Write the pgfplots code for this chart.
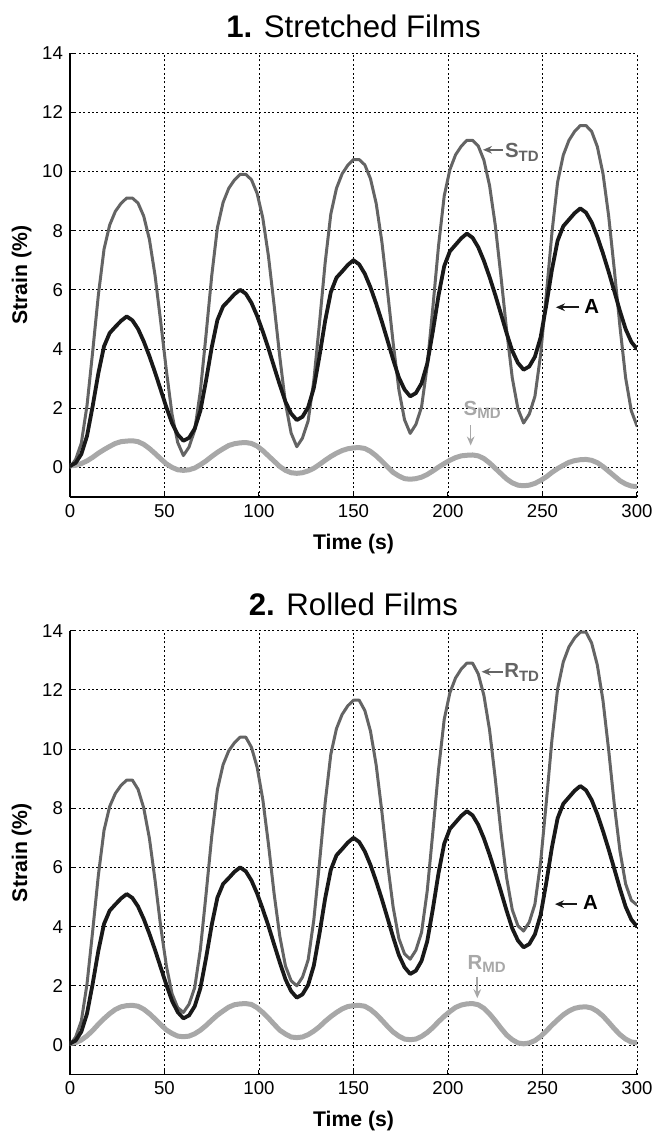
\documentclass[border=0pt]{standalone}
\usepackage{fontspec}
\setmainfont{Liberation Sans}
\usepackage{pgfplots}
\pgfplotsset{compat=1.18}
\usepackage{pgfplotstable}
\usetikzlibrary{arrows.meta}
\definecolor{tdgray}{RGB}{100,100,100}
\definecolor{mdgray}{RGB}{168,168,168}
\definecolor{ablack}{RGB}{25,25,25}

\pgfplotstableread{
t A TD MD
0 0.05 0 0.05
3 0.15 0.27 0.07
6 0.45 0.82 0.13
9 1.06 2.09 0.22
12 2.07 3.91 0.34
15 3.18 5.82 0.48
18 4.09 7.37 0.60
21 4.54 8.19 0.71
24 4.75 8.65 0.81
27 4.95 8.92 0.87
30 5.10 9.10 0.89
33 4.97 9.10 0.90
36 4.68 8.93 0.87
39 4.26 8.49 0.78
42 3.76 7.71 0.64
45 3.21 6.49 0.47
48 2.62 4.92 0.29
51 2.03 3.27 0.12
54 1.49 1.79 0.00
57 1.11 0.84 -0.08
60 0.90 0.40 -0.10
63 1.00 0.69 -0.08
66 1.31 1.26 -0.02
69 1.92 2.59 0.09
72 2.94 4.49 0.22
75 4.06 6.48 0.37
78 4.98 8.10 0.51
81 5.44 8.95 0.63
84 5.64 9.43 0.74
87 5.85 9.71 0.80
90 6.00 9.90 0.83
93 5.87 9.90 0.84
96 5.56 9.72 0.81
99 5.12 9.26 0.72
102 4.59 8.43 0.57
105 4.02 7.14 0.39
108 3.40 5.48 0.21
111 2.79 3.74 0.03
114 2.22 2.17 -0.10
117 1.82 1.16 -0.18
120 1.60 0.70 -0.20
123 1.71 0.99 -0.18
126 2.03 1.57 -0.12
129 2.68 2.93 -0.03
132 3.76 4.87 0.10
135 4.95 6.91 0.24
138 5.92 8.56 0.37
141 6.41 9.43 0.48
144 6.62 9.92 0.57
147 6.84 10.21 0.63
150 7.00 10.40 0.66
153 6.86 10.40 0.67
156 6.54 10.22 0.64
159 6.08 9.75 0.54
162 5.53 8.92 0.39
165 4.93 7.63 0.21
168 4.29 5.96 0.02
171 3.64 4.20 -0.17
174 3.04 2.63 -0.29
177 2.63 1.61 -0.38
180 2.40 1.15 -0.40
183 2.51 1.45 -0.38
186 2.84 2.04 -0.33
189 3.50 3.43 -0.24
192 4.60 5.41 -0.12
195 5.81 7.49 0.01
198 6.80 9.17 0.13
201 7.30 10.06 0.24
204 7.52 10.56 0.33
207 7.74 10.85 0.39
210 7.90 11.05 0.41
213 7.76 11.05 0.42
216 7.44 10.86 0.39
219 6.98 10.38 0.30
222 6.43 9.52 0.15
225 5.83 8.19 -0.03
228 5.19 6.47 -0.21
231 4.54 4.65 -0.39
234 3.94 3.03 -0.52
237 3.53 1.98 -0.60
240 3.30 1.50 -0.62
243 3.41 1.80 -0.60
246 3.74 2.40 -0.54
249 4.39 3.81 -0.44
252 5.48 5.82 -0.32
255 6.68 7.93 -0.17
258 7.66 9.64 -0.04
261 8.15 10.55 0.07
264 8.37 11.05 0.17
267 8.59 11.35 0.23
270 8.75 11.55 0.26
273 8.61 11.55 0.27
276 8.28 11.35 0.24
279 7.80 10.84 0.16
282 7.23 9.93 0.03
285 6.61 8.50 -0.13
288 5.95 6.68 -0.29
291 5.28 4.75 -0.45
294 4.67 3.02 -0.56
297 4.24 1.91 -0.63
300 4.00 1.40 -0.65
}\tabS

\pgfplotstableread{
t A TD MD
0 0.05 0 0.05
3 0.15 0.27 0.08
6 0.45 0.81 0.17
9 1.06 2.06 0.31
12 2.07 3.85 0.49
15 3.18 5.73 0.70
18 4.09 7.25 0.89
21 4.54 8.06 1.06
24 4.75 8.50 1.20
27 4.95 8.77 1.29
30 5.10 8.95 1.33
33 4.97 8.95 1.34
36 4.68 8.64 1.31
39 4.26 8.01 1.21
42 3.76 6.99 1.06
45 3.21 5.57 0.88
48 2.62 4.00 0.69
51 2.03 2.67 0.51
54 1.49 1.73 0.39
57 1.11 1.26 0.30
60 0.90 1.10 0.28
63 1.00 1.38 0.30
66 1.31 1.94 0.38
69 1.92 3.24 0.50
72 2.94 5.10 0.66
75 4.06 7.05 0.84
78 4.98 8.63 1.01
81 5.44 9.47 1.15
84 5.64 9.94 1.28
87 5.85 10.21 1.36
90 6.00 10.40 1.39
93 5.87 10.40 1.40
96 5.56 10.06 1.37
99 5.12 9.39 1.26
102 4.59 8.30 1.10
105 4.02 6.79 0.91
108 3.40 5.11 0.70
111 2.79 3.68 0.50
114 2.22 2.67 0.37
117 1.82 2.17 0.27
120 1.60 2.00 0.25
123 1.71 2.29 0.27
126 2.03 2.87 0.35
129 2.68 4.22 0.47
132 3.76 6.15 0.62
135 4.95 8.18 0.80
138 5.92 9.82 0.96
141 6.41 10.69 1.10
144 6.62 11.17 1.22
147 6.84 11.46 1.30
150 7.00 11.65 1.33
153 6.86 11.65 1.34
156 6.54 11.30 1.31
159 6.08 10.60 1.20
162 5.53 9.46 1.04
165 4.93 7.89 0.84
168 4.29 6.14 0.63
171 3.64 4.65 0.44
174 3.04 3.60 0.30
177 2.63 3.08 0.20
180 2.40 2.90 0.18
183 2.51 3.20 0.20
186 2.84 3.80 0.29
189 3.50 5.20 0.42
192 4.60 7.20 0.59
195 5.81 9.30 0.79
198 6.80 11.00 0.97
201 7.30 11.90 1.13
204 7.52 12.40 1.27
207 7.74 12.70 1.35
210 7.90 12.90 1.39
213 7.76 12.90 1.40
216 7.44 12.54 1.36
219 6.98 11.81 1.24
222 6.43 10.64 1.05
225 5.83 9.01 0.82
228 5.19 7.20 0.57
231 4.54 5.66 0.34
234 3.94 4.57 0.18
237 3.53 4.03 0.07
240 3.30 3.85 0.04
243 3.41 4.15 0.07
246 3.74 4.76 0.15
249 4.39 6.17 0.29
252 5.48 8.19 0.47
255 6.68 10.31 0.67
258 7.66 12.03 0.85
261 8.15 12.94 1.02
264 8.37 13.45 1.15
267 8.59 13.75 1.24
270 8.75 13.95 1.28
273 8.61 13.95 1.29
276 8.28 13.58 1.25
279 7.80 12.84 1.14
282 7.23 11.64 0.98
285 6.61 9.97 0.77
288 5.95 8.12 0.55
291 5.28 6.55 0.35
294 4.67 5.44 0.20
297 4.24 4.89 0.10
300 4.00 4.73 0.08
}\tabR

\tikzset{
  annfont/.style={font=\fontsize{10.2}{12}\selectfont\bfseries, inner sep=0pt, anchor=base west},
  annarrow/.style={line width=0.8pt, -{Stealth[length=4.5pt,width=3.8pt]}},
}
\pgfplotsset{
  every axis title shift=0pt,
  myaxis/.style={
    scale only axis, width=283.5pt, height=222pt,
    xmin=0, xmax=300, ymin=-1, ymax=14,
    xtick={0,50,...,300}, ytick={0,2,...,14},
    axis x line*=bottom, axis y line*=left,
    axis line style={line width=0.6pt, -},
    tick align=inside, major tick length=2.5pt,
    tick style={black, line width=0.5pt},
    grid=major,
    major grid style={black, line width=0.4pt, dash pattern=on 1pt off 1.2pt},
    /pgf/number format/assume math mode=true,
    ticklabel style={font=\fontsize{9.3}{11}\selectfont},
    xlabel={\textbf{Time (s)}}, ylabel={\textbf{Strain (\%)}},
    label style={font=\fontsize{10.6}{12}\selectfont},
    xlabel style={at={(axis description cs:0.5,-0.118)}, anchor=base},
    ylabel style={at={(axis description cs:-0.0758,0.5)}, anchor=base},
    title style={at={(axis description cs:0.5,1.0347)}, anchor=base, font=\fontsize{15.6}{19}\selectfont},
    every axis plot/.append style={line join=round, line cap=round},
  },
}
\newcommand{\sub}[1]{\raisebox{-1.8pt}{\fontsize{7.5}{9}\selectfont #1}}

\begin{document}
\begin{tikzpicture}
\begin{axis}[myaxis, at={(0,0)}, anchor=south west, title={\textbf{1.} Stretched Films}]
\addplot[color=mdgray, line width=2.5pt] table[x=t, y=MD] {\tabS};
\addplot[color=tdgray, line width=1.5pt] table[x=t, y=TD] {\tabS};
\addplot[color=ablack, line width=1.9pt] table[x=t, y=A] {\tabS};
\draw[annarrow, tdgray] (axis cs:229,10.73) -- (axis cs:218.5,10.73);
\node[annfont, text=tdgray] at (axis cs:230,10.46) {S\sub{TD}};
\draw[annarrow, ablack] (axis cs:269.5,5.41) -- (axis cs:257.1,5.41);
\node[annfont, text=black] at (axis cs:272,5.2) {A};
\draw[annarrow, mdgray] (axis cs:212,1.42) -- (axis cs:212,0.74);
\node[annfont, text=mdgray] at (axis cs:208.1,1.76) {S\sub{MD}};
\end{axis}
\begin{axis}[myaxis, at={(0,-288.8pt)}, anchor=south west, title={\textbf{2.} Rolled Films}]
\addplot[color=mdgray, line width=2.5pt] table[x=t, y=MD] {\tabR};
\addplot[color=tdgray, line width=1.5pt] table[x=t, y=TD] {\tabR};
\addplot[color=ablack, line width=1.9pt] table[x=t, y=A] {\tabR};
\draw[annarrow, tdgray] (axis cs:228.9,12.61) -- (axis cs:217.8,12.61);
\node[annfont, text=tdgray] at (axis cs:229.6,12.41) {R\sub{TD}};
\draw[annarrow, ablack] (axis cs:268.1,4.76) -- (axis cs:256.6,4.76);
\node[annfont, text=black] at (axis cs:271.3,4.59) {A};
\draw[annarrow, mdgray] (axis cs:215.5,2.31) -- (axis cs:215.5,1.58);
\node[annfont, text=mdgray] at (axis cs:210.2,2.56) {R\sub{MD}};
\end{axis}
\pgfresetboundingbox
\path[use as bounding box] (-35pt,248.5pt) rectangle (291.5pt,-317.5pt);
\end{tikzpicture}
\end{document}
